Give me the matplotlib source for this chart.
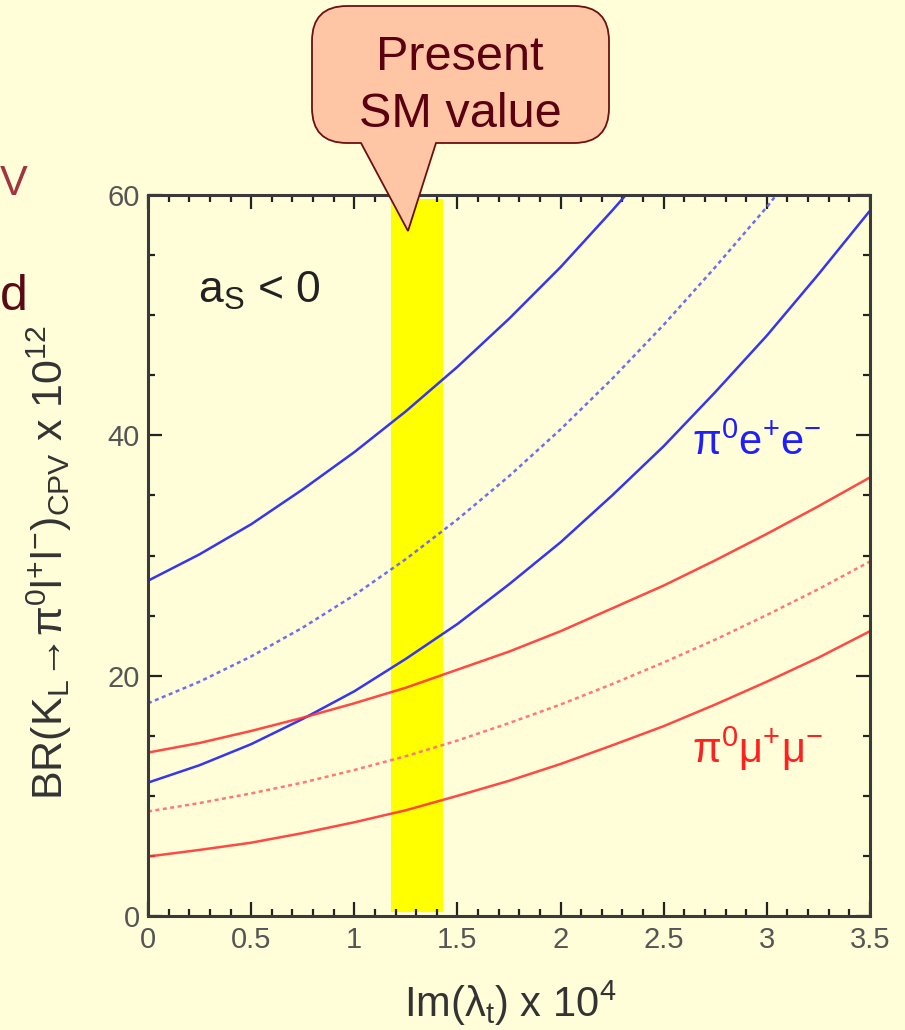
import matplotlib
matplotlib.use("Agg")
import matplotlib.pyplot as plt
from matplotlib.path import Path
from matplotlib.patches import PathPatch
from matplotlib.ticker import MultipleLocator

plt.rcParams['font.family'] = ['Liberation Sans', 'DejaVu Sans']
plt.rcParams['mathtext.fontset'] = 'custom'
plt.rcParams['mathtext.rm'] = 'Liberation Sans'
plt.rcParams['mathtext.it'] = 'Liberation Sans'
plt.rcParams['mathtext.sf'] = 'Liberation Sans'
plt.rcParams['mathtext.bf'] = 'Liberation Sans:bold'

# Im(lambda_t) x 10^4 sample positions
im_lambda = [0.0, 0.25, 0.5, 0.75, 1.0, 1.25, 1.5, 1.75, 2.0, 2.25, 2.5, 2.75, 3.0, 3.25, 3.5]

# BR(K_L -> pi0 e+ e-) x 10^12, three a_S values
ee_high = [27.9, 30.1, 32.6, 35.5, 38.6, 42.0, 45.7, 49.7, 54.0, 58.7, 63.6]
ee_mid = [17.7, 19.5, 21.6, 24.0, 26.7, 29.7, 33.0, 36.6, 40.5, 44.7, 49.2, 54.0, 59.0, 64.5]
ee_low = [11.1, 12.55, 14.3, 16.4, 18.7, 21.4, 24.3, 27.6, 31.1, 35.0, 39.1, 43.6, 48.3, 53.4, 58.7]

# BR(K_L -> pi0 mu+ mu-) x 10^12
mm_high = [13.6, 14.4, 15.4, 16.5, 17.7, 19.0, 20.5, 22.0, 23.7, 25.6, 27.5, 29.6, 31.8, 34.1, 36.5]
mm_mid = [8.7, 9.4, 10.2, 11.1, 12.15, 13.3, 14.6, 16.05, 17.6, 19.3, 21.1, 23.0, 25.05, 27.2, 29.5]
mm_low = [4.95, 5.5, 6.1, 6.9, 7.8, 8.8, 10.0, 11.25, 12.65, 14.2, 15.8, 17.6, 19.5, 21.5, 23.7]

# present SM range of Im(lambda_t)
sm_band = (1.18, 1.43)

x_ticks = [0, 0.5, 1, 1.5, 2, 2.5, 3, 3.5]
x_ticklabels = ['0', '0.5', '1', '1.5', '2', '2.5', '3', '3.5']
y_ticks = [0, 20, 40, 60]

BG = '#FFFED8'
W, H = 905, 1030


def fx(px):
    return px / W


def fy(py):
    return 1 - py / H


fig = plt.figure(figsize=(W / 100, H / 100), dpi=100, facecolor=BG)
ax = fig.add_axes([fx(148), fy(916), fx(870) - fx(148), fy(195) - fy(916)])
ax.set_facecolor(BG)

ax.axvspan(sm_band[0], sm_band[1], ymin=0.005, ymax=0.995, color='#FFFF00', lw=0, zorder=1)

blue, blue_light = '#3535F2', '#6E6EF4'
red, red_light = '#FF3535', '#FF7878'
dash = (0, (1.6, 1.4))

ax.plot(im_lambda[:len(ee_high)], ee_high, color=blue, lw=1.8, zorder=3)
ax.plot(im_lambda[:len(ee_mid)], ee_mid, color=blue_light, lw=1.8, ls=dash, zorder=3)
ax.plot(im_lambda[:len(ee_low)], ee_low, color=blue, lw=1.8, zorder=3)
ax.plot(im_lambda, mm_high, color=red, lw=1.8, alpha=0.9, zorder=3)
ax.plot(im_lambda, mm_mid, color=red_light, lw=1.8, ls=dash, zorder=3)
ax.plot(im_lambda, mm_low, color=red, lw=1.8, alpha=0.9, zorder=3)

ax.set_xlim(0, 3.5)
ax.set_ylim(0, 60)
ax.set_xticks(x_ticks)
ax.set_xticklabels(x_ticklabels)
ax.set_yticks(y_ticks)
ax.xaxis.set_minor_locator(MultipleLocator(0.1))
ax.yaxis.set_minor_locator(MultipleLocator(5))
ax.tick_params(which='both', direction='in', top=True, right=True,
               colors='#222222', labelcolor='#555555', labelsize=21)
ax.tick_params(which='major', length=10, width=1.6)
ax.tick_params(which='minor', length=5, width=1.6)
ax.tick_params(axis='x', pad=7)
ax.tick_params(axis='y', pad=6)
for side, sp in ax.spines.items():
    sp.set_linewidth(2.2)
    sp.set_color('#3a3a3a')
    sp.set_zorder(4)

fig.text(fx(198), fy(303), r'a$_S$ < 0', fontsize=32, color='#222222',
         ha='left', va='baseline')
fig.text(fx(692), fy(455), r'π$^0$e$^{\text{+}}$e$^{\text{−}}$', fontsize=30,
         color='#1E1EFF', ha='left', va='baseline')
fig.text(fx(692), fy(763), r'π$^0$μ$^{\text{+}}$μ$^{\text{−}}$', fontsize=30,
         color='#FF2020', ha='left', va='baseline')

fig.text(fx(510), fy(1017), r'Im(λ$_t$) x 10$^4$', fontsize=30, color='#333333',
         ha='center', va='baseline')
fig.text(fx(63), fy(563),
         r'BR(K$_L$→π$^0$l$^{\text{+}}$l$^{\text{−}}$)$_{CPV}$ x 10$^{12}$',
         fontsize=31, color='#333333', rotation=90, rotation_mode='anchor',
         ha='center', va='baseline')

# slide text fragments at the left edge
fig.text(fx(0), fy(195), 'V', fontsize=30, color='#A3333D',
         ha='left', va='baseline')
fig.text(fx(0), fy(310), 'd', fontsize=36, color='#5A0A14',
         ha='left', va='baseline')

# speech-bubble callout
x0, x1, y0, y1, r = 312, 609, 6, 143, 35
tip = (408, 231)
pts = [
    ((x0 + r, y0), Path.MOVETO),
    ((x1 - r, y0), Path.LINETO),
    ((x1, y0), Path.CURVE3), ((x1, y0 + r), Path.CURVE3),
    ((x1, y1 - r), Path.LINETO),
    ((x1, y1), Path.CURVE3), ((x1 - r, y1), Path.CURVE3),
    ((436, y1), Path.LINETO),
    (tip, Path.LINETO),
    ((361, y1), Path.LINETO),
    ((x0 + r, y1), Path.LINETO),
    ((x0, y1), Path.CURVE3), ((x0, y1 - r), Path.CURVE3),
    ((x0, y0 + r), Path.LINETO),
    ((x0, y0), Path.CURVE3), ((x0 + r, y0), Path.CURVE3),
    ((x0 + r, y0), Path.CLOSEPOLY),
]
verts = [(fx(p[0]), fy(p[1])) for p, _ in pts]
codes = [c for _, c in pts]
bubble = PathPatch(Path(verts, codes), facecolor='#FFC6A6', edgecolor='#6B1010',
                   lw=1.3, transform=fig.transFigure, zorder=10)
fig.add_artist(bubble)
fig.text(fx(460), fy(70), 'Present', fontsize=35, color='#5A0010',
         ha='center', va='baseline', zorder=11)
fig.text(fx(460), fy(127), 'SM value', fontsize=35, color='#5A0010',
         ha='center', va='baseline', zorder=11)

fig.savefig('out.png', dpi=100, facecolor=BG)
